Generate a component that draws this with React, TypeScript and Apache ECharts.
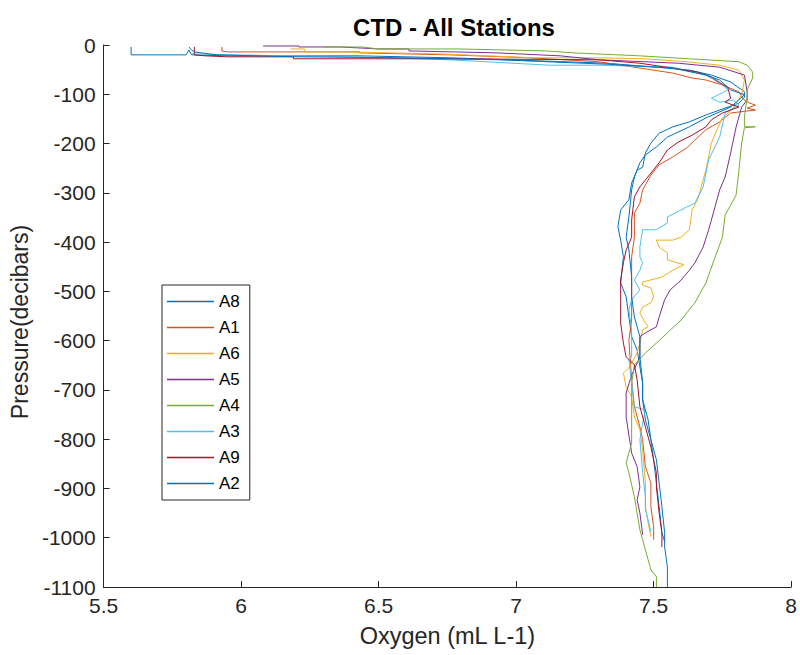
import React, { useEffect, useRef } from "react";
import * as echarts from "echarts";

// Station names (legend order)
const stations = ["A8", "A1", "A6", "A5", "A4", "A3", "A9", "A2"];
const stationColors = ["#0072BD", "#D95319", "#EDB120", "#7E2F8E", "#77AC30", "#4DBEEE", "#A2142F", "#0072BD"];

// Axis ticks
const xTicks = [5.5, 6, 6.5, 7, 7.5, 8];
const yTicks = [0, -100, -200, -300, -400, -500, -600, -700, -800, -900, -1000, -1100];

// Profiles: [oxygen (mL L-1), pressure (decibars)]
const A8: [number, number][] = [
  [5.60, -4], [5.60, -20], [5.80, -20], [5.81, -10], [5.82, -20], [5.95, -22], [6.43, -22], [6.76, -26],
  [7.33, -37], [7.51, -45], [7.63, -51], [7.71, -61], [7.78, -75], [7.83, -95], [7.83, -106], [7.81, -118],
  [7.76, -128], [7.69, -142], [7.63, -156], [7.57, -166], [7.52, -179], [7.49, -199], [7.47, -219],
  [7.46, -248], [7.44, -254], [7.42, -280], [7.41, -314], [7.38, -335], [7.37, -369], [7.38, -396],
  [7.39, -430], [7.38, -483], [7.40, -511], [7.41, -552], [7.42, -592], [7.44, -619], [7.45, -653],
  [7.46, -686], [7.46, -720], [7.47, -761], [7.49, -801], [7.50, -842], [7.51, -889], [7.52, -937],
  [7.53, -990], [7.54, -1008],
];
const A1: [number, number][] = [
  [5.93, -4], [5.93, -12], [5.95, -14], [6.43, -14], [6.43, -16], [6.76, -20], [7.05, -26], [7.30, -34],
  [7.57, -57], [7.64, -67], [7.69, -71], [7.75, -81], [7.81, -95], [7.83, -112], [7.85, -118], [7.87, -122],
  [7.84, -128], [7.87, -132], [7.81, -136], [7.78, -138], [7.74, -156], [7.69, -172], [7.65, -193],
  [7.62, -209], [7.57, -227], [7.52, -243], [7.49, -264], [7.46, -294], [7.45, -321], [7.43, -341],
  [7.43, -390], [7.42, -430], [7.42, -477], [7.42, -523], [7.42, -558], [7.41, -599], [7.42, -680],
  [7.43, -734], [7.45, -775], [7.46, -801], [7.47, -856], [7.49, -889], [7.49, -937], [7.50, -978],
  [7.50, -1004],
];
const A6: [number, number][] = [
  [6.18, -8], [6.23, -8], [6.23, -14], [6.36, -14], [6.54, -16], [6.72, -18], [7.07, -26], [7.29, -26],
  [7.47, -28], [7.62, -34], [7.74, -41], [7.81, -51], [7.83, -71], [7.82, -101], [7.79, -128], [7.75, -148],
  [7.73, -172], [7.71, -199], [7.69, -254], [7.66, -314], [7.64, -335], [7.63, -375], [7.60, -390],
  [7.57, -396], [7.51, -396], [7.52, -410], [7.55, -422], [7.55, -436], [7.61, -446], [7.57, -457],
  [7.53, -471], [7.46, -481], [7.46, -487], [7.49, -493], [7.50, -511], [7.49, -523], [7.46, -532],
  [7.45, -544], [7.47, -564], [7.48, -572], [7.46, -578], [7.45, -605], [7.44, -625], [7.41, -655],
  [7.39, -666], [7.40, -694], [7.42, -714], [7.43, -755], [7.45, -781], [7.46, -822], [7.47, -889],
  [7.47, -937], [7.48, -970], [7.49, -998],
];
const A5: [number, number][] = [
  [6.08, -2], [6.21, -2], [6.21, -4], [6.36, -4], [6.50, -8], [6.61, -8], [6.61, -12], [6.93, -16],
  [7.16, -22], [7.30, -30], [7.59, -37], [7.74, -45], [7.83, -61], [7.84, -95], [7.84, -112], [7.82, -126],
  [7.80, -166], [7.78, -219], [7.76, -268], [7.74, -294], [7.72, -335], [7.70, -375], [7.68, -410],
  [7.65, -442], [7.63, -457], [7.60, -477], [7.56, -497], [7.54, -517], [7.52, -552], [7.51, -572],
  [7.47, -584], [7.45, -592], [7.45, -633], [7.42, -670], [7.40, -706], [7.40, -755], [7.42, -828],
  [7.44, -856], [7.45, -897], [7.44, -923], [7.45, -950], [7.46, -994],
];
const A4: [number, number][] = [
  [6.30, -4], [6.44, -4], [6.50, -8], [6.79, -8], [7.11, -12], [7.21, -16], [7.45, -22], [7.63, -28],
  [7.81, -34], [7.84, -41], [7.86, -55], [7.86, -67], [7.84, -91], [7.84, -106], [7.83, -146], [7.83, -166],
  [7.87, -166], [7.83, -168], [7.82, -199], [7.81, -254], [7.80, -304], [7.78, -325], [7.76, -345],
  [7.75, -390], [7.72, -436], [7.69, -483], [7.65, -523], [7.60, -558], [7.55, -584], [7.51, -605],
  [7.47, -625], [7.46, -631], [7.43, -649], [7.42, -686], [7.42, -741], [7.42, -808], [7.40, -848],
  [7.41, -868], [7.43, -917], [7.45, -984], [7.46, -1004], [7.48, -1045], [7.49, -1065], [7.51, -1079],
  [7.51, -1100],
];
const A3: [number, number][] = [
  [5.82, -18], [5.96, -20], [6.43, -24], [6.76, -30], [7.12, -41], [7.30, -41], [7.57, -45], [7.69, -61],
  [7.75, -81], [7.77, -91], [7.75, -97], [7.71, -108], [7.74, -116], [7.79, -112], [7.81, -122],
  [7.76, -138], [7.74, -187], [7.70, -233], [7.69, -260], [7.68, -288], [7.65, -321], [7.62, -329],
  [7.55, -349], [7.55, -361], [7.51, -375], [7.46, -375], [7.45, -410], [7.45, -430], [7.46, -442],
  [7.45, -457], [7.43, -477], [7.45, -497], [7.42, -517], [7.41, -538], [7.42, -578], [7.42, -633],
  [7.41, -639], [7.42, -686], [7.43, -734], [7.47, -741], [7.46, -767], [7.45, -801], [7.46, -868],
  [7.47, -917], [7.47, -943], [7.48, -964], [7.49, -988],
];
const A9: [number, number][] = [
  [5.83, -4], [5.83, -20], [5.87, -22], [5.95, -24], [6.19, -24], [6.19, -28], [6.76, -28], [7.30, -30],
  [7.45, -37], [7.57, -47], [7.66, -55], [7.71, -65], [7.77, -87], [7.78, -108], [7.76, -116], [7.81, -126],
  [7.75, -138], [7.71, -152], [7.69, -166], [7.64, -183], [7.59, -197], [7.55, -213], [7.52, -239],
  [7.49, -260], [7.47, -274], [7.45, -288], [7.43, -308], [7.42, -355], [7.42, -390], [7.40, -416],
  [7.39, -442], [7.38, -477], [7.38, -523], [7.38, -564], [7.39, -605], [7.40, -633], [7.43, -649],
  [7.44, -680], [7.45, -734], [7.47, -775], [7.49, -816], [7.51, -868], [7.51, -897], [7.52, -950],
  [7.53, -990], [7.53, -1019],
];
const A2: [number, number][] = [
  [5.81, -4], [5.82, -10], [5.83, -14], [5.91, -20], [6.21, -24], [6.58, -26], [6.94, -30], [7.33, -39],
  [7.57, -47], [7.69, -61], [7.74, -71], [7.78, -91], [7.83, -101], [7.78, -126], [7.69, -148],
  [7.63, -166], [7.55, -187], [7.51, -207], [7.47, -223], [7.45, -239], [7.43, -268], [7.42, -294],
  [7.41, -349], [7.40, -390], [7.41, -416], [7.42, -471], [7.42, -511], [7.43, -552], [7.45, -592],
  [7.45, -633], [7.46, -686], [7.46, -720], [7.48, -761], [7.49, -801], [7.51, -842], [7.52, -889],
  [7.53, -937], [7.54, -990], [7.54, -1019], [7.55, -1059], [7.55, -1100],
];

const profiles = [A8, A1, A6, A5, A4, A3, A9, A2];

const FONT = '"Liberation Sans", Arial, Helvetica, sans-serif';
const AXIS_COLOR = "#262626";

export default function App() {
  const ref = useRef<HTMLDivElement>(null);

  useEffect(() => {
    if (!ref.current) return;
    const chart = echarts.init(ref.current, undefined, { renderer: "svg" });
    const option: any = {
      animation: false,
      backgroundColor: "#ffffff",
      title: {
        text: "CTD - All Stations",
        left: 449,
        textAlign: "center",
        top: 10,
        textStyle: { fontFamily: FONT, fontSize: 24, fontWeight: "bold", color: "#000000" },
      },
      legend: {
        orient: "vertical",
        left: 162,
        top: 285,
        padding: [8, 10, 8, 5],
        icon: "rect",
        itemWidth: 47,
        itemHeight: 1.5,
        itemGap: 9,
        borderColor: AXIS_COLOR,
        borderWidth: 1,
        borderRadius: 0,
        backgroundColor: "#ffffff",
        data: stations,
        textStyle: { fontFamily: FONT, fontSize: 17, color: "#000000" },
      },
      grid: { left: 103, right: 7, top: 45, bottom: 68, containLabel: false },
      xAxis: {
        type: "value",
        min: xTicks[0],
        max: xTicks[xTicks.length - 1],
        interval: 0.5,
        name: "Oxygen (mL L-1)",
        nameLocation: "middle",
        nameGap: 37,
        nameTextStyle: { fontFamily: FONT, fontSize: 23.5, color: AXIS_COLOR },
        axisLine: { show: true, onZero: false, lineStyle: { color: AXIS_COLOR, width: 1 } },
        axisTick: { show: true, inside: true, length: 6, lineStyle: { color: AXIS_COLOR } },
        axisLabel: {
          fontFamily: FONT,
          fontSize: 21,
          color: AXIS_COLOR,
          margin: 8,
          formatter: (v: number) => String(v),
        },
        splitLine: { show: false },
      },
      yAxis: {
        type: "value",
        min: yTicks[yTicks.length - 1],
        max: yTicks[0],
        interval: 100,
        name: "Pressure(decibars)",
        nameLocation: "middle",
        nameGap: 72,
        nameTextStyle: { fontFamily: FONT, fontSize: 23, color: AXIS_COLOR, padding: [0, 12, 0, 0] },
        axisLine: { show: true, onZero: false, lineStyle: { color: AXIS_COLOR, width: 1 } },
        axisTick: { show: true, inside: true, length: 6, lineStyle: { color: AXIS_COLOR } },
        axisLabel: {
          fontFamily: FONT,
          fontSize: 21,
          color: AXIS_COLOR,
          margin: 8,
          formatter: (v: number) => String(v),
        },
        splitLine: { show: false },
      },
      series: stations.map((name, i) => ({
        name,
        type: "line",
        data: profiles[i],
        symbol: "none",
        showSymbol: false,
        lineStyle: { color: stationColors[i], width: 1 },
        itemStyle: { color: stationColors[i] },
        emphasis: { disabled: true },
      })),
    };
    chart.setOption(option);
    return () => chart.dispose();
  }, []);

  return (
    <div
      ref={ref}
      style={{ position: "fixed", left: 0, top: 0, width: 800, height: 655, background: "#ffffff" }}
    />
  );
}
